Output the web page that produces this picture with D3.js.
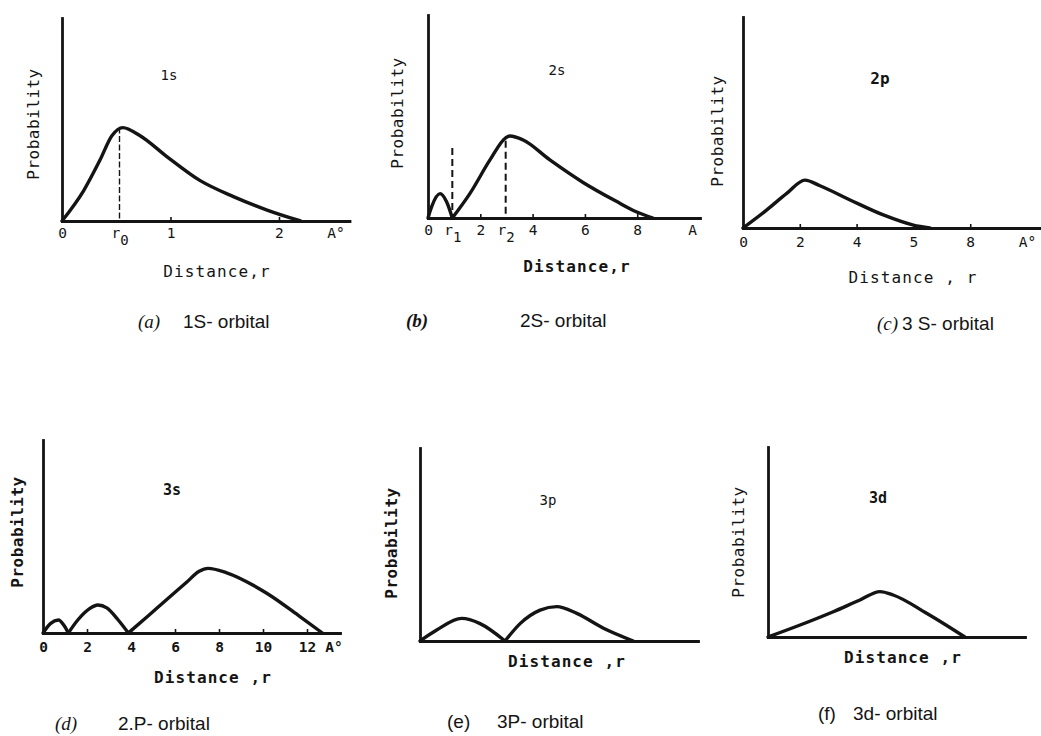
<!DOCTYPE html>
<html>
<head>
<meta charset="utf-8">
<script src="https://cdn.jsdelivr.net/npm/d3@7"></script>
<style>
  html, body { margin: 0; padding: 0; background: #fff; }
  svg { display: block; }
</style>
</head>
<body>
<svg id="chart" width="1041" height="736"></svg>
<script>
// Radial probability distributions: r in Å (abstract units for 3p / 3d),
// probability as a fraction of the drawn axis height.
const r1s = [0, 0.2, 0.35, 0.46, 0.56, 0.72, 0.96, 1.27, 1.58, 1.89, 2.2];
const p1s = [0, 0.15, 0.30, 0.42, 0.46, 0.42, 0.32, 0.20, 0.12, 0.054, 0];

const r2s = [0, 0.14, 0.46, 0.71, 0.93, 1.6, 2.37, 2.97, 3.13, 3.64, 4.66, 5.93, 7.2, 7.96, 8.6];
const p2s = [0, 0.056, 0.12, 0.08, 0, 0.12, 0.286, 0.395, 0.404, 0.384, 0.286, 0.175, 0.082, 0.031, 0];

const r2p = [0, 0.83, 1.54, 2.18, 2.71, 3.77, 4.94, 6.0, 6.58];
const p2p = [0, 0.085, 0.164, 0.227, 0.2, 0.133, 0.062, 0.014, 0];

const r3s = [0, 0.35, 0.7, 0.95, 1.15, 1.6, 2.1, 2.5, 2.9, 3.4, 3.88, 4.8, 5.6, 6.5, 7.1, 7.5, 8.35, 10.17, 11.68, 12.7];
const p3s = [0, 0.05, 0.067, 0.04, 0, 0.07, 0.125, 0.145, 0.13, 0.07, 0, 0.091, 0.171, 0.26, 0.32, 0.335, 0.312, 0.206, 0.085, 0];

const r3p = [0, 0.6, 1.5, 2.16, 3.06, 3.6, 4.32, 4.92, 5.64, 6.6, 7.67];
const p3p = [0, 0.057, 0.117, 0.09, 0, 0.09, 0.16, 0.178, 0.143, 0.066, 0];

const r3d = [0, 1.25, 2.54, 3.58, 4.36, 4.87, 6.17, 7.66];
const p3d = [0, 0.063, 0.133, 0.195, 0.239, 0.221, 0.125, 0];

// Tick marks and tick labels (label "rN" is drawn as r with subscript N)
const marks1s = [1, 2];
const labelPos1s = [0, 0.53, 1, 2, 2.52];
const labels1s = ["0", "r0", "1", "2", "A°"];

const marks2s = [2, 4, 6, 8];
const labelPos2s = [0, 0.93, 2, 2.97, 4, 6, 8, 10.1];
const labels2s = ["0", "r1", "2", "r2", "4", "6", "8", "A"];

const marks2p = [2, 4, 6, 8];
const labelPos2p = [0, 2, 4, 6, 8, 10.0];
const labels2p = ["0", "2", "4", "5", "8", "A°"];

const marks3s = [2, 4, 6, 8, 10, 12];
const labelPos3s = [0, 2, 4, 6, 8, 10, 12, 13.2];
const labels3s = ["0", "2", "4", "6", "8", "10", "12", "A°"];

// Most-probable radii / nodes marked with dashed guides
const guideR1s = [0.53], guideTop1s = [0.46];
const guideR2s = [0.93, 2.97], guideTop2s = [0.345, 0.38];

const ink = "#141414";
const mono = "'DejaVu Sans Mono', 'Liberation Mono', monospace";
const sans = "'Liberation Sans', Arial, sans-serif";
const serif = "'Liberation Serif', 'Times New Roman', serif";
const svg = d3.select("#chart");

// split a curve into lobes at its interior zeros so each node stays a sharp cusp
function lobes(rs, ps) {
  const pts = rs.map((r, i) => [r, ps[i]]);
  const out = [];
  let cur = [pts[0]];
  for (let i = 1; i < pts.length; i++) {
    cur.push(pts[i]);
    if (pts[i][1] === 0 && i < pts.length - 1) { out.push(cur); cur = [pts[i]]; }
  }
  out.push(cur);
  return out;
}

function panel(cfg) {
  const x = d3.scaleLinear().domain([0, cfg.xMax]).range([cfg.left, cfg.right]);
  const y = d3.scaleLinear().domain([0, 1]).range([cfg.bottom, cfg.top]);
  const g = svg.append("g");

  // dashed guides
  if (cfg.guideR) {
    g.selectAll("line.guide").data(cfg.guideR).join("line")
      .attr("class", "guide")
      .attr("x1", d => x(d)).attr("x2", d => x(d))
      .attr("y1", (d, i) => y(cfg.guideTop[i])).attr("y2", y(0))
      .attr("stroke", ink).attr("stroke-width", cfg.guideWidth)
      .attr("stroke-dasharray", cfg.guideDash);
  }

  // x axis with small upward tick marks
  const xa = g.append("g").attr("transform", `translate(0,${cfg.bottom})`)
    .call(d3.axisBottom(x).tickValues(cfg.marks || []).tickSize(-4).tickSizeOuter(0).tickFormat(""));
  xa.select(".domain").attr("stroke", ink).attr("stroke-width", 2.8).attr("stroke-linecap", "square");
  xa.selectAll(".tick line").attr("stroke", ink).attr("stroke-width", 1.6);

  // y axis (no ticks)
  const ya = g.append("g").attr("transform", `translate(${cfg.left},0)`)
    .call(d3.axisLeft(y).tickValues([]).tickSizeOuter(0));
  ya.select(".domain").attr("stroke", ink).attr("stroke-width", 2.8).attr("stroke-linecap", "square");

  // tick labels
  if (cfg.labelPos) {
    const la = g.append("g").attr("transform", `translate(0,${cfg.bottom})`)
      .call(d3.axisBottom(x).tickValues(cfg.labelPos).tickSize(0).tickPadding(cfg.labelPad)
        .tickFormat((d, i) => cfg.labels[i]));
    la.select(".domain").remove();
    la.selectAll(".tick text")
      .attr("font-family", mono).attr("font-size", 14.5)
      .attr("font-weight", cfg.labelWeight || "normal")
      .attr("fill", ink)
      .each(function () {
        const t = d3.select(this);
        const s = t.text();
        if (/^r\d$/.test(s)) {
          t.text("r");
          t.append("tspan").attr("dy", "0.45em").attr("font-size", 14).text(s.slice(1));
        }
      });
  }

  // the distribution curve
  const line = d3.line().x(d => x(d[0])).y(d => y(d[1])).curve(d3.curveMonotoneX);
  g.selectAll("path.curve").data(lobes(cfg.r, cfg.p)).join("path")
    .attr("class", "curve").attr("d", line)
    .attr("fill", "none").attr("stroke", ink).attr("stroke-width", 3.4)
    .attr("stroke-linejoin", "round").attr("stroke-linecap", "round");

  // orbital name
  g.append("text").attr("x", cfg.name[1]).attr("y", cfg.name[2])
    .attr("text-anchor", "middle").attr("font-family", mono)
    .attr("font-size", cfg.name[3]).attr("font-weight", cfg.name[4])
    .attr("fill", ink).text(cfg.name[0]);

  // axis titles
  g.append("text")
    .attr("transform", `translate(${cfg.yTitle[0]},${cfg.yTitle[1]}) rotate(-90)`)
    .attr("text-anchor", "middle").attr("dominant-baseline", "central")
    .attr("font-family", mono).attr("font-size", 16).attr("letter-spacing", 0.5)
    .attr("font-weight", cfg.yTitle[2]).attr("fill", ink).text("Probability");
  g.append("text").attr("x", cfg.xTitle[1]).attr("y", cfg.xTitle[2])
    .attr("text-anchor", "middle").attr("font-family", mono).attr("font-size", 16)
    .attr("letter-spacing", 1.1).attr("font-weight", cfg.xTitle[3])
    .attr("fill", ink).text(cfg.xTitle[0]);

  // caption
  const cap = g.append("text").attr("y", cfg.caption.y).attr("fill", ink).attr("font-size", 19);
  cap.append("tspan").attr("x", cfg.caption.x1)
    .attr("font-family", cfg.caption.tagFont).attr("font-style", cfg.caption.tagStyle)
    .attr("font-weight", cfg.caption.tagWeight).text(cfg.caption.tag);
  cap.append("tspan").attr("x", cfg.caption.x2).attr("font-family", sans).text(cfg.caption.text);
}

panel({
  r: r1s, p: p1s, xMax: 2.65, left: 62, right: 349.5, top: 18, bottom: 221,
  marks: marks1s, labelPos: labelPos1s, labels: labels1s, labelPad: 7,
  guideR: guideR1s, guideTop: guideTop1s, guideWidth: 1.4, guideDash: "6,2.5",
  name: ["1s", 169, 80, 14, "normal"],
  yTitle: [33, 124, "normal"], xTitle: ["Distance,r", 217, 277, "normal"],
  caption: { y: 328, x1: 138, x2: 183, tag: "(a)", tagFont: serif, tagStyle: "italic", tagWeight: "normal", text: "1S- orbital" }
});

panel({
  r: r2s, p: p2s, xMax: 10.4, left: 428, right: 700, top: 15, bottom: 218,
  marks: marks2s, labelPos: labelPos2s, labels: labels2s, labelPad: 7,
  guideR: guideR2s, guideTop: guideTop2s, guideWidth: 2, guideDash: "7,4",
  name: ["2s", 557, 75, 14, "normal"],
  yTitle: [397, 113, "normal"], xTitle: ["Distance,r", 577, 272, "bold"],
  caption: { y: 327, x1: 406, x2: 520, tag: "(b)", tagFont: serif, tagStyle: "italic", tagWeight: "bold", text: "2S- orbital" }
});

panel({
  r: r2p, p: p2p, xMax: 10.45, left: 743, right: 1039.8, top: 17, bottom: 228,
  marks: marks2p, labelPos: labelPos2p, labels: labels2p, labelPad: 9,
  name: ["2p", 880, 84, 16, "bold"],
  yTitle: [717, 131, "normal"], xTitle: ["Distance , r", 913, 283, "normal"],
  caption: { y: 330, x1: 877, x2: 902, tag: "(c)", tagFont: serif, tagStyle: "italic", tagWeight: "normal", text: "3 S- orbital" }
});

panel({
  r: r3s, p: p3s, xMax: 13.5, left: 43, right: 340, top: 440, bottom: 633,
  marks: marks3s, labelPos: labelPos3s, labels: labels3s, labelPad: 9, labelWeight: "bold",
  name: ["3s", 172, 495, 15, "bold"],
  yTitle: [17, 532, "bold"], xTitle: ["Distance ,r", 213, 683, "bold"],
  caption: { y: 730, x1: 55, x2: 118, tag: "(d)", tagFont: serif, tagStyle: "italic", tagWeight: "normal", text: "2.P- orbital" }
});

panel({
  r: r3p, p: p3p, xMax: 10, left: 420, right: 698, top: 448, bottom: 641,
  name: ["3p", 548, 505, 14, "normal"],
  yTitle: [391, 543, "bold"], xTitle: ["Distance ,r", 567, 667, "bold"],
  caption: { y: 728, x1: 447, x2: 497, tag: "(e)", tagFont: sans, tagStyle: "normal", tagWeight: "normal", text: "3P- orbital" }
});

panel({
  r: r3d, p: p3d, xMax: 10, left: 768, right: 1025, top: 447, bottom: 637,
  name: ["3d", 878, 503, 15, "bold"],
  yTitle: [738, 542, "normal"], xTitle: ["Distance ,r", 903, 663, "bold"],
  caption: { y: 720, x1: 818, x2: 853, tag: "(f)", tagFont: sans, tagStyle: "normal", tagWeight: "normal", text: "3d- orbital" }
});
</script>
</body>
</html>
